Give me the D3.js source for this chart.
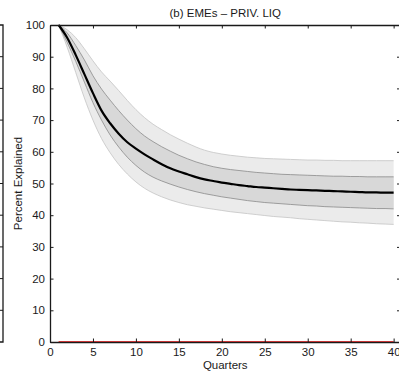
<!DOCTYPE html>
<html>
<head>
<meta charset="utf-8">
<script src="https://cdn.jsdelivr.net/npm/d3@7"></script>
<style>
  body { margin: 0; background: #fff; }
  svg text { font-family: "Liberation Sans", Arial, sans-serif; font-size: 11.5px; fill: #1a1a1a; }
</style>
</head>
<body>
<div id="chart"></div>
<script>
(function() {
    let w = 399, h = 372

    // quarters 1..40
    let quarters = d3.range(1, 41)
    let median = [100, 96, 90.5, 84.5, 78.5, 73, 69, 65.7, 63, 61, 59.2, 57.6, 56.1, 54.8, 53.8, 52.9, 52, 51.3, 50.8, 50.3,
                  49.9, 49.5, 49.2, 48.9, 48.7, 48.5, 48.3, 48.1, 48, 47.9, 47.8, 47.7, 47.6, 47.5, 47.4, 47.3, 47.2, 47.2, 47.1, 47.1]
    let innerHi = [100, 97.5, 93.5, 89, 84, 79.8, 76.3, 73, 70, 67.3, 65, 63.2, 61.6, 60.2, 58.9, 57.8, 56.8, 56, 55.3, 54.8,
                   54.4, 54.1, 53.8, 53.5, 53.3, 53.1, 52.9, 52.8, 52.7, 52.6, 52.5, 52.4, 52.3, 52.3, 52.2, 52.2, 52.1, 52.1, 52.1, 52.1]
    let innerLo = [100, 94.5, 88.5, 82, 75.5, 70, 65.3, 61.5, 58.3, 55.7, 53.6, 52, 50.8, 49.8, 48.9, 48.1, 47.4, 46.8, 46.3, 45.8,
                   45.4, 45, 44.6, 44.3, 44, 43.8, 43.6, 43.4, 43.2, 43, 42.9, 42.7, 42.6, 42.5, 42.4, 42.3, 42.2, 42.1, 42.1, 42]
    let outerHi = [100, 98.5, 96, 92.5, 88.7, 85.2, 82.3, 79.3, 76.2, 73.3, 70.8, 68.7, 67, 65.4, 64, 62.7, 61.5, 60.5, 59.8, 59.3,
                   58.9, 58.6, 58.3, 58.1, 57.9, 57.8, 57.7, 57.6, 57.5, 57.4, 57.4, 57.3, 57.3, 57.2, 57.2, 57.2, 57.2, 57.2, 57.2, 57.2]
    let outerLo = [100, 93, 85, 77, 70, 64.2, 59.7, 56, 53, 50.5, 48.5, 47, 45.8, 44.8, 44, 43.3, 42.8, 42.3, 41.9, 41.5,
                   41.1, 40.8, 40.5, 40.2, 39.9, 39.6, 39.4, 39.2, 38.9, 38.7, 38.5, 38.3, 38.1, 37.9, 37.8, 37.6, 37.5, 37.3, 37.2, 37.1]
    let zeroLine = quarters.map(() => 0)

    let xTicks = [0, 5, 10, 15, 20, 25, 30, 35, 40]
    let yTicks = [0, 10, 20, 30, 40, 50, 60, 70, 80, 90, 100]

    let left = 50, top = 25, bottom = 342
    let x = d3.scaleLinear().domain([0, 40.8]).range([left, 400.5])
    let y = d3.scaleLinear().domain([0, 100]).range([bottom, top])
    let right = x(40.8)

    let svg = d3.select("#chart").append("svg")
                .attr("width", w)
                .attr("height", h)

    let curve = d3.curveMonotoneX
    let area = (lo, hi) => d3.area()
        .curve(curve)
        .x((d, i) => x(quarters[i]))
        .y0((d, i) => y(lo[i]))
        .y1((d, i) => y(hi[i]))(quarters)
    let line = vals => d3.line()
        .curve(curve)
        .x((d, i) => x(quarters[i]))
        .y(d => y(d))(vals)

    // bands
    svg.append("path").attr("d", area(outerLo, outerHi)).attr("fill", "#ebebeb")
    svg.append("path").attr("d", area(innerLo, innerHi)).attr("fill", "#d8d8d8")
    ;[outerHi, outerLo].forEach(v => svg.append("path").attr("d", line(v))
        .attr("fill", "none").attr("stroke", "#c4c4c4").attr("stroke-width", 0.8))
    ;[innerHi, innerLo].forEach(v => svg.append("path").attr("d", line(v))
        .attr("fill", "none").attr("stroke", "#8a8a8a").attr("stroke-width", 0.8))

    svg.append("path").attr("d", line(median))
       .attr("fill", "none").attr("stroke", "#000").attr("stroke-width", 2.2)

    svg.append("path").attr("d", line(zeroLine))
       .attr("fill", "none").attr("stroke", "#ff0000").attr("stroke-width", 1.5)

    // axes (matlab style box, inward ticks)
    let tl = 3.5
    let xAxisB = d3.axisBottom(x).tickValues(xTicks).tickSizeInner(-tl).tickSizeOuter(0).tickPadding(6)
    let xAxisT = d3.axisTop(x).tickValues(xTicks.slice(1)).tickSizeInner(-tl).tickSizeOuter(0).tickFormat("")
    let yAxisL = d3.axisLeft(y).tickValues(yTicks).tickSizeInner(-tl).tickSizeOuter(0).tickPadding(5)
    let yAxisR = d3.axisRight(y).tickValues(yTicks.slice(1)).tickSizeInner(-tl).tickSizeOuter(0).tickFormat("")

    let styleAxis = g => {
        g.select(".domain").attr("stroke", "#1a1a1a").attr("stroke-width", 1.3)
        g.selectAll(".tick line").attr("stroke", "#1a1a1a").attr("stroke-width", 1)
        g.selectAll(".tick text").attr("font-size", null).attr("font-family", null)
    }

    svg.append("g").attr("transform", "translate(0," + bottom + ")").call(xAxisB).call(styleAxis)
    svg.append("g").attr("transform", "translate(0," + top + ")").call(xAxisT).call(styleAxis)
    svg.append("g").attr("transform", "translate(" + left + ",0)").call(yAxisL).call(styleAxis)
    svg.append("g").attr("transform", "translate(" + right + ",0)").call(yAxisR).call(styleAxis)

    // right edge of the neighbouring panel
    let edge = svg.append("g")
    edge.append("path")
        .attr("d", "M0," + top + "H3V" + bottom + "H0")
        .attr("fill", "none").attr("stroke", "#1a1a1a").attr("stroke-width", 1.3)
    edge.selectAll("line").data(yTicks.slice(1, -1)).enter().append("line")
        .attr("x1", 0).attr("x2", 3)
        .attr("y1", d => y(d)).attr("y2", d => y(d))
        .attr("stroke", "#1a1a1a")

    // labels
    svg.append("text").text("(b) EMEs \u2013 PRIV. LIQ")
       .attr("x", (left + right) / 2).attr("y", 16.5).attr("text-anchor", "middle")
    svg.append("text").text("Quarters")
       .attr("x", (left + right) / 2).attr("y", 369).attr("text-anchor", "middle")
    svg.append("text").text("Percent Explained")
       .attr("transform", "translate(21.5," + (top + bottom) / 2 + ") rotate(-90)")
       .attr("text-anchor", "middle")
})()
</script>
</body>
</html>
